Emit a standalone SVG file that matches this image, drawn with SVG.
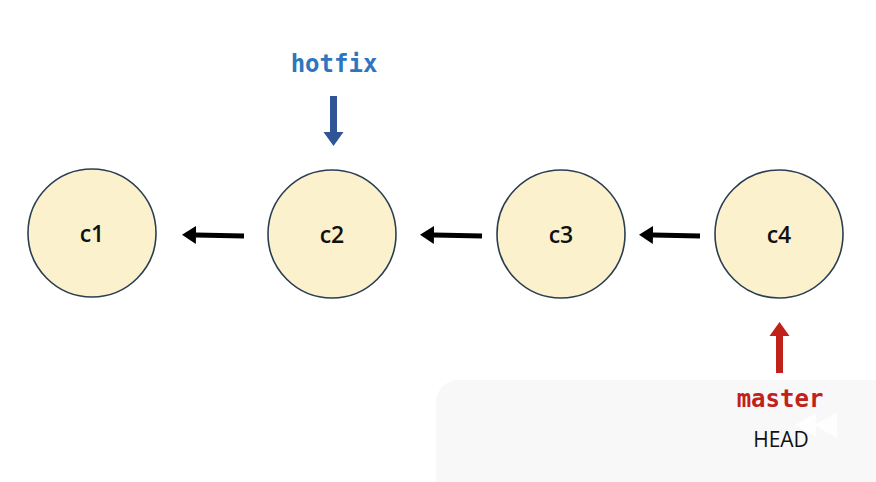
<svg xmlns="http://www.w3.org/2000/svg" width="876" height="482" viewBox="0 0 876 482">
<style>
.commit circle{fill:#fbf1cc;stroke:#2a3e52;stroke-width:1.6}
.commit text{font-family:"Open Sans","Liberation Sans",sans-serif;font-size:23px;font-weight:600;fill:#111;text-anchor:middle}
.link{stroke:#000;stroke-width:5;fill:none}
.ref{font-family:"DejaVu Sans Mono","Liberation Mono",monospace;font-weight:bold;font-size:24px;text-anchor:middle}
</style>
<defs>
<marker id="ah" markerUnits="userSpaceOnUse" markerWidth="14" markerHeight="18" refX="0" refY="9" orient="auto">
<path d="M0,0 L14,9 L0,18 Z" fill="#000"/>
</marker>
</defs>
<rect width="876" height="482" fill="#fff"/>
<rect x="436" y="380" width="470" height="140" rx="22" fill="#f8f8f8"/>
<g fill="#fff" opacity="0.9">
<path d="M795,425 L816,413 L816,437 Z"/>
<path d="M814,425 L837,413 L837,438 Z"/>
</g>
<g id="connectors">
<line class="link" x1="244" y1="236" x2="196" y2="235" marker-end="url(#ah)"/>
<line class="link" x1="482" y1="236" x2="434" y2="235" marker-end="url(#ah)"/>
<line class="link" x1="700" y1="236" x2="653" y2="235" marker-end="url(#ah)"/>
</g>
<g id="c1" class="commit"><circle cx="92" cy="233" r="64"/><text x="92" y="242">c1</text></g>
<g id="c2" class="commit"><circle cx="332" cy="234" r="64"/><text x="332" y="243">c2</text></g>
<g id="c3" class="commit"><circle cx="561" cy="234" r="64"/><text x="561" y="243">c3</text></g>
<g id="c4" class="commit"><circle cx="779" cy="234" r="64"/><text x="779" y="243">c4</text></g>
<g id="hotfix">
<text class="ref" x="334" y="72" fill="#2e75c0">hotfix</text>
<rect x="330" y="96" width="7" height="37" fill="#2f5597"/>
<path d="M323.5,132 L343.5,132 L333.5,146 Z" fill="#2f5597"/>
</g>
<g id="master">
<rect x="776" y="335" width="7" height="38" fill="#c0221b"/>
<path d="M769.5,336 L789.5,336 L779.5,322 Z" fill="#c0221b"/>
<text class="ref" x="780" y="407" fill="#c0221b">master</text>
</g>
<g id="head">
<text x="781" y="447" font-family="Open Sans, Liberation Sans, sans-serif" font-size="21" fill="#111" text-anchor="middle">HEAD</text>
</g>
</svg>
